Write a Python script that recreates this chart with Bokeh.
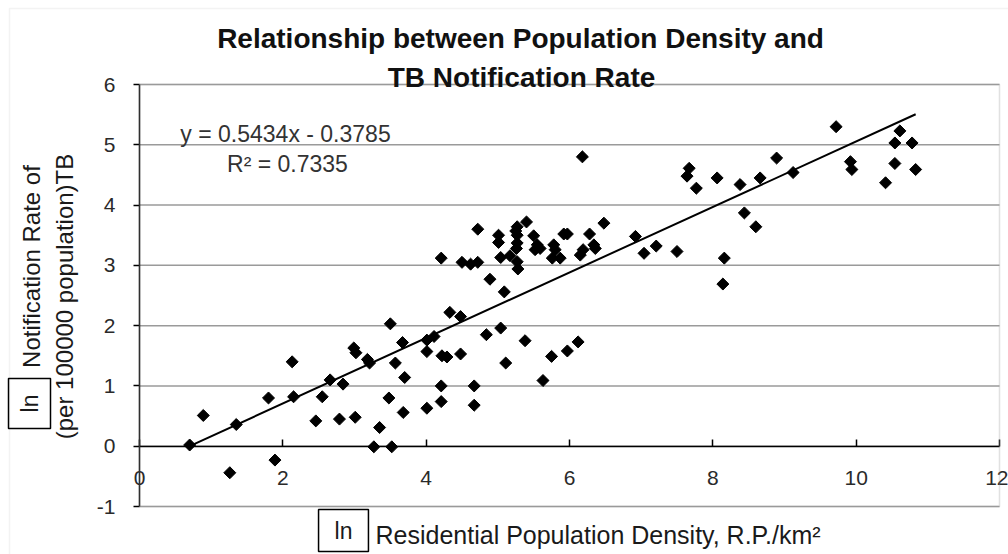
import numpy as np
from bokeh.plotting import figure
from bokeh.models import Label, FixedTicker, Range1d, BoxAnnotation
from bokeh.embed import file_html
from bokeh.resources import INLINE

# ---- data ----
x_ln_density = [0.70, 0.89, 1.26, 1.35, 1.80, 1.89, 2.13, 2.15, 2.46, 2.55,
                2.66, 2.79, 2.84, 2.99, 3.02, 3.01, 3.18, 3.21, 3.27, 3.35,
                3.48, 3.50, 3.52, 3.57, 3.67, 3.68, 3.70, 4.01, 4.11, 4.01,
                4.01, 4.22, 4.29, 4.21, 4.21, 4.48, 4.67, 4.67,
                4.21, 4.33, 4.48, 4.50, 4.62, 4.72, 4.72, 4.84, 4.89, 5.01,
                5.01, 5.04, 5.04, 5.09, 5.11, 5.17, 5.27, 5.25, 5.27, 5.27,
                5.26, 5.27, 5.28, 5.38, 5.40, 5.50, 5.52, 5.55, 5.59, 5.63,
                5.75, 5.76, 5.78, 5.80, 5.87, 5.92, 5.97, 5.97, 6.12, 6.15,
                6.18, 6.19, 6.28, 6.34, 6.36, 6.48, 6.92, 7.04, 7.21, 7.50,
                7.64, 7.67, 7.77, 8.06, 8.14, 8.16, 8.38, 8.44, 8.60, 8.66,
                8.89, 9.12, 9.72, 9.92, 9.94, 10.41, 10.54, 10.54, 10.61, 10.78,
                10.83]
y_ln_rate = [0.02, 0.51, -0.44, 0.36, 0.80, -0.23, 1.40, 0.82, 0.42, 0.82,
             1.10, 0.45, 1.03, 1.63, 1.55, 0.48, 1.44, 1.38, -0.01, 0.31,
             0.80, 2.03, -0.01, 1.38, 1.72, 0.56, 1.14, 1.76, 1.82, 1.57,
             0.63, 1.50, 1.48, 1.00, 0.74, 1.53, 1.00, 0.68,
             3.12, 2.22, 2.15, 3.05, 3.02, 3.05, 3.60, 1.85, 2.77, 3.50,
             3.38, 3.13, 1.96, 2.56, 1.38, 3.16, 3.64, 3.57, 3.50, 3.37,
             3.28, 3.06, 2.94, 1.75, 3.72, 3.49, 3.26, 3.34, 3.28, 1.09,
             1.49, 3.12, 3.34, 3.26, 3.12, 3.52, 3.52, 1.58, 1.73, 3.17,
             4.80, 3.26, 3.52, 3.34, 3.28, 3.70, 3.48, 3.20, 3.32, 3.23,
             4.48, 4.61, 4.28, 4.45, 2.69, 3.12, 4.34, 3.87, 3.64, 4.45,
             4.78, 4.54, 5.30, 4.72, 4.59, 4.37, 5.03, 4.69, 5.23, 5.03,
             4.59]
slope = 0.5434
intercept = -0.3785
r_squared = 0.7335
x_ticks = [0, 2, 4, 6, 8, 10, 12]
y_ticks = [-1, 0, 1, 2, 3, 4, 5, 6]

title_lines = ["Relationship between Population Density and", "TB Notification Rate"]
x_label = "Residential Population Density, R.P./km\u00b2"
y_label_lines = ["Notification Rate of", "(per 100000 population)TB"]
ln_text = "ln"

# ---- layout: page pixels of the plot area ----
W, H = 1008, 554
FX0, FX1 = 139, 999   # page x of x=0 and x=12
FY0, FY1 = 84, 506    # page y of y=6 and y=-1


def dx(X):
    return (X - FX0) / (FX1 - FX0) * 12.0


def dy(Y):
    return 6.0 - (Y - FY0) / (FY1 - FY0) * 7.0


FONT = "Liberation Sans"

# the frame covers the whole canvas so that texts outside the plot area show
p = figure(width=W, height=H, title=None,
           x_range=Range1d(dx(0), dx(W)), y_range=Range1d(dy(H), dy(0)),
           output_backend="svg", toolbar_location=None, min_border=0)
p.background_fill_color = "white"
p.border_fill_color = "white"
p.outline_line_color = None
p.xgrid.visible = False
p.ygrid.visible = False

# chart border (light)
p.add_layout(BoxAnnotation(left=dx(9), top=dy(8), right=dx(W + 20), bottom=dy(H + 20),
                           fill_alpha=0, line_color="#d6d6d6", line_width=1.5))

# horizontal gridlines limited to the plot area
p.segment(x0=[x_ticks[0]] * len(y_ticks), x1=[x_ticks[-1]] * len(y_ticks),
          y0=y_ticks, y1=y_ticks, line_color="#9a9a9a", line_width=1.5)

# plot area border
p.add_layout(BoxAnnotation(left=x_ticks[0], right=x_ticks[-1],
                           bottom=y_ticks[0], top=y_ticks[-1],
                           fill_alpha=0, line_color="#9a9a9a", line_width=1.5))

# x axis crossing at y = 0
p.xaxis.fixed_location = 0
p.xaxis.bounds = (x_ticks[0], x_ticks[-1])
p.xaxis.ticker = FixedTicker(ticks=x_ticks)
p.xaxis.major_tick_in = 7
p.xaxis.major_tick_out = 0
p.xaxis.minor_tick_line_color = None
p.xaxis.axis_line_color = "black"
p.xaxis.axis_line_width = 1.5
p.xaxis.major_tick_line_width = 1.5
p.xaxis.major_label_text_font = FONT
p.xaxis.major_label_text_font_size = "21px"
p.xaxis.major_label_text_color = "#2a2a2a"
p.xaxis.major_label_standoff = 25

# y axis at x = 0
p.yaxis.fixed_location = 0
p.yaxis.bounds = (y_ticks[0], y_ticks[-1])
p.yaxis.ticker = FixedTicker(ticks=y_ticks)
p.yaxis.major_tick_in = 0
p.yaxis.major_tick_out = 6
p.yaxis.minor_tick_line_color = None
p.yaxis.axis_line_color = "black"
p.yaxis.axis_line_width = 1.5
p.yaxis.major_tick_line_width = 1.5
p.yaxis.major_label_text_font = FONT
p.yaxis.major_label_text_font_size = "21px"
p.yaxis.major_label_text_color = "#2a2a2a"
p.yaxis.major_label_standoff = 18
p.yaxis.major_label_overrides = {t: str(t) for t in y_ticks}

# points
p.scatter(x_ln_density, y_ln_rate, marker="square", angle=np.pi / 4, size=8.5,
          fill_color="black", line_color="black")

# linear trend line
x0, x1 = min(x_ln_density), max(x_ln_density)
p.line([x0, x1], [slope * x0 + intercept, slope * x1 + intercept],
       line_color="black", line_width=2)


# texts
def add_label(text, X, Y, size, bold=False, align="center", angle=0.0,
              color="black", **kw):
    lab = Label(x=dx(X), y=dy(Y), text=text, text_font=FONT,
                text_font_size=f"{size}px",
                text_font_style="bold" if bold else "normal",
                text_align=align, text_baseline="middle", angle=angle,
                text_color=color, **kw)
    p.add_layout(lab)


add_label(title_lines[0], 520, 38, 28, bold=True, color="#111111")
add_label(title_lines[1], 521, 77, 28, bold=True, color="#111111")

add_label(f"y = {slope}x - {abs(intercept)}", 285, 133, 23, color="#333333")
add_label(f"R\u00b2 = {r_squared}", 287, 163, 23, color="#333333")

add_label(x_label, 375, 534, 25, align="left", color="#1a1a1a")
add_label(ln_text, 343, 530, 23, color="#1a1a1a",
          border_line_color="black", border_line_width=1.5,
          padding=(16, 8))

add_label(y_label_lines[0], 31, 266, 24, angle=np.pi / 2, color="#1a1a1a")
add_label(y_label_lines[1], 64, 296, 24, angle=np.pi / 2, color="#1a1a1a")
add_label(ln_text, 29, 403, 23, angle=np.pi / 2, color="#1a1a1a",
          border_line_color="black", border_line_width=1.5,
          padding=(16, 8))

open("out.html", "w").write(file_html(p, INLINE))
